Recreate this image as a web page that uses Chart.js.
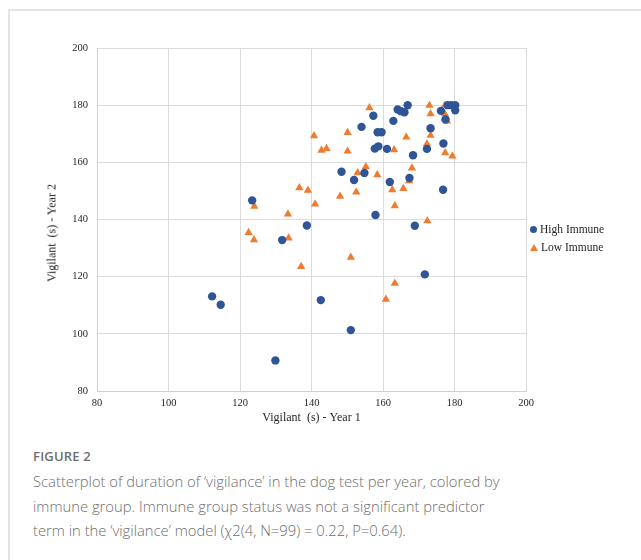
<!DOCTYPE html>
<html>
<head>
<meta charset="utf-8">
<script src="https://cdn.jsdelivr.net/npm/chart.js@4.4.1/dist/chart.umd.min.js"></script>
<style>
  html, body { margin:0; padding:0; background:#fff; }
  body { width:641px; height:560px; position:relative; overflow:hidden; }
  .frame { position:absolute; left:8px; top:9px; width:700px; height:600px;
           border-left:2px solid #e3e3e3; border-top:2px solid #e3e3e3; }
  #chart { position:absolute; left:0; top:0; }
  .ytitle { position:absolute; left:52px; top:233px; transform:translate(-50%,-50%) rotate(-90deg);
            font-family:"Liberation Serif", serif; font-size:12px; color:#262626; white-space:pre; }
  .legend { position:absolute; left:530px; top:220px; font-family:"Liberation Serif", serif;
            font-size:11.5px; color:#262626; line-height:18px; }
  .legend .dot { display:inline-block; width:7px; height:7px; border-radius:50%; background:#2f5597;
                 margin-right:3px; vertical-align:0px; }
  .legend .tri { display:inline-block; width:0; height:0; border-left:4px solid transparent;
                 border-right:4px solid transparent; border-bottom:7px solid #ed7d31;
                 margin-right:3px; vertical-align:0px; }
  .caption { position:absolute; left:33px; top:447px; font-family:"Open Sans", sans-serif; color:#6e6e6e; }
  .caption .fig { font-size:13px; font-weight:600; letter-spacing:0.2px; margin-bottom:4px; }
  .caption .txt { font-size:14.8px; font-weight:300; line-height:24.5px; white-space:nowrap; }
</style>
</head>
<body>
<div class="frame"></div>
<canvas id="chart" width="641" height="440"></canvas>
<div class="ytitle" id="ytitle"></div>
<div class="legend">
  <div><span class="dot"></span>High Immune</div>
  <div><span class="tri"></span>Low Immune</div>
</div>
<div class="caption">
  <div class="fig">FIGURE 2</div>
  <div class="txt">Scatterplot of duration of ‘vigilance’ in the dog test per year, colored by<br>immune group. Immune group status was not a significant predictor<br>term in the ‘vigilance’ model (χ2(4, N=99) = 0.22, P=0.64).</div>
</div>
<script>
/* ---------------------------
   Data
   --------------------------- */
const highYear1 = [123.4,138.7,131.8,157.3,154.0,164.1,165.0,166.0,166.9,162.9,158.5,159.6,157.7,158.7,161.1,168.4,172.3,173.3,176.2,178.1,179.1,180.2,180.2,177.5,176.9,148.4,154.8,151.9,161.9,167.4,176.8,157.9,168.9,112.2,114.6,129.9,171.7,142.6,151.0];
const highYear2 = [146.7,137.9,132.8,176.3,172.4,178.5,177.9,177.5,180.0,174.5,170.5,170.5,164.8,165.6,164.7,162.5,164.7,171.9,178.0,180.0,180.0,180.0,178.2,175.0,166.6,156.7,156.3,153.8,153.1,154.5,150.4,141.6,137.8,113.1,110.2,90.7,120.8,111.8,101.3];

const lowYear1 = [124.0,136.6,139.0,133.4,122.4,123.9,133.6,137.1,156.2,140.7,150.1,142.8,144.2,150.1,163.1,166.5,172.3,173.3,173.0,173.3,177.3,177.3,177.3,177.9,177.4,179.4,155.2,152.9,158.4,168.1,167.3,165.7,162.6,152.5,148.0,141.0,163.3,172.4,151.0,163.3,160.8];
const lowYear2 = [144.6,151.1,150.2,141.9,135.4,132.9,133.5,123.5,179.1,169.3,170.4,164.2,164.8,163.9,164.4,168.8,166.5,169.4,179.9,177.0,179.9,177.0,175.4,174.4,163.3,162.2,158.4,156.3,155.6,158.0,153.5,150.8,150.4,149.6,148.1,145.4,144.8,139.5,126.8,117.7,112.1];

const seriesNames = ['High Immune','Low Immune'];
const xTitle = 'Vigilant  (s) - Year 1';
const yTitle = 'Vigilant  (s) - Year 2';

const toPoints = (xs, ys) => xs.map((x,i) => ({x, y: ys[i]}));

const tickFont = { family:'Liberation Serif', size:10.5 };
const titleFont = { family:'Liberation Serif', size:12 };

// y title sits a bit below the plot centre in the original, so it is placed as text
document.getElementById('ytitle').textContent = yTitle;

/* ---------------------------
   Chart
   --------------------------- */
const ctx = document.getElementById('chart').getContext('2d');
const chart = new Chart(ctx, {
  type: 'scatter',
  data: {
    datasets: [
      { label: seriesNames[0], data: toPoints(highYear1, highYear2), pointStyle:'circle',
        backgroundColor:'#2f5597', borderColor:'#2f5597', borderWidth:0, pointRadius:4.2 },
      { label: seriesNames[1], data: toPoints(lowYear1, lowYear2), pointStyle:'triangle',
        backgroundColor:'#ed7d31', borderColor:'#ed7d31', borderWidth:0, pointRadius:4.8 }
    ]
  },
  options: {
    responsive:false,
    animation:false,
    devicePixelRatio:1,
    layout: { padding: { left:40, top:48, right:115, bottom:11 } },
    plugins: { legend:{ display:false }, tooltip:{ enabled:false } },
    scales: {
      x: {
        type:'linear', min:80, max:200,
        ticks:{ stepSize:20, font:tickFont, color:'#262626', padding:6 },
        grid:{ color:'#dcdcdc', drawTicks:false },
        border:{ color:'#d0d0d0' },
        title:{ display:true, text:xTitle, font:titleFont, color:'#262626', padding:{top:2,bottom:4} },
        afterFit: s => { s.height = 38; }
      },
      y: {
        type:'linear', min:80, max:200,
        ticks:{ stepSize:20, font:tickFont, color:'#262626', padding:9 },
        grid:{ color:'#dcdcdc', drawTicks:false },
        border:{ color:'#d0d0d0' },
        title:{ display:false },
        afterFit: s => { s.width = 57; }
      }
    }
  }
});
</script>
</body>
</html>
